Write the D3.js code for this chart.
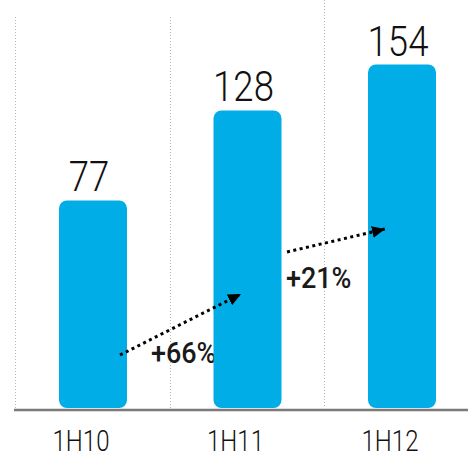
<!DOCTYPE html>
<html>
<head>
<meta charset="utf-8">
<script src="https://cdn.jsdelivr.net/npm/d3@7"></script>
<style>
  body { margin: 0; background: #fff; }
  svg { display: block; }
</style>
</head>
<body>
<svg id="chart" width="468" height="459"></svg>
<script>
// half-year figures
var periods = ["1H10", "1H11", "1H12"];
var values = [77, 128, 154];
var growthLabels = ["+66%", "+21%"];

var width = 468, height = 459;
var baseY = 408;
var svg = d3.select("#chart");

// columns between the dotted separators
var x = d3.scaleBand()
  .domain(periods)
  .range([15, 478.5])
  .padding(0);

// the bars are not drawn from zero in the original, axis is cut
var y = d3.scaleLinear()
  .domain([-40.5, 154])
  .range([baseY, 64.5]);

var barOff = 44, barW = 68;

svg.append("defs").append("marker")
  .attr("id", "head")
  .attr("markerUnits", "userSpaceOnUse")
  .attr("markerWidth", 14)
  .attr("markerHeight", 12)
  .attr("refX", 13)
  .attr("refY", 6)
  .attr("orient", "auto")
  .append("path")
  .attr("d", "M0,0 L13,6 L0,12 Z")
  .attr("fill", "#000");

// dotted separators
svg.selectAll("line.sep")
  .data(periods)
  .enter()
  .append("line")
  .attr("class", "sep")
  .attr("x1", function(d) { return Math.round(x(d)) + 0.5; })
  .attr("x2", function(d) { return Math.round(x(d)) + 0.5; })
  .attr("y1", function(d, i) { return i == 2 ? 0 : 17; })
  .attr("y2", baseY)
  .attr("stroke", "#b5b5b5")
  .attr("stroke-width", 1)
  .attr("stroke-dasharray", "1,2");

// growth labels sit under the bars (the % of +66% gets covered)
var growthPos = [[151, 363], [286, 288]];
svg.selectAll("text.growth")
  .data(growthLabels)
  .enter()
  .append("text")
  .attr("class", "growth")
  .attr("transform", function(d, i) {
    return "translate(" + growthPos[i][0] + "," + growthPos[i][1] + ") scale(0.93,1)";
  })
  .attr("font-family", "Roboto, sans-serif")
  .attr("font-weight", 500)
  .attr("font-size", 29)
  .attr("fill", "#1a1a1a")
  .text(function(d) { return d; });

// bars
svg.selectAll("rect.bar")
  .data(values)
  .enter()
  .append("rect")
  .attr("class", "bar")
  .attr("x", function(d, i) { return x(periods[i]) + barOff; })
  .attr("y", function(d) { return y(d); })
  .attr("width", barW)
  .attr("height", function(d) { return baseY - y(d); })
  .attr("rx", 8)
  .attr("ry", 8)
  .attr("fill", "#00ade6");

// baseline
svg.append("line")
  .attr("x1", 14)
  .attr("x2", width)
  .attr("y1", baseY + 2)
  .attr("y2", baseY + 2)
  .attr("stroke", "#7a7a7a")
  .attr("stroke-width", 2.5);

// value labels
svg.selectAll("text.val")
  .data(values)
  .enter()
  .append("text")
  .attr("class", "val")
  .attr("transform", function(d, i) {
    var cx = x(periods[i]) + barOff + barW / 2 - 4;
    return "translate(" + cx + "," + (y(d) - 9) + ") scale(0.87,1)";
  })
  .attr("text-anchor", "middle")
  .attr("font-family", "Roboto, sans-serif")
  .attr("font-weight", 300)
  .attr("font-size", 42)
  .attr("fill", "#111")
  .text(function(d) { return d; });

// period labels
svg.selectAll("text.cat")
  .data(periods)
  .enter()
  .append("text")
  .attr("class", "cat")
  .attr("transform", function(d) {
    return "translate(" + (x(d) + 66) + ",451) scale(0.8,1)";
  })
  .attr("text-anchor", "middle")
  .attr("font-family", "Roboto, sans-serif")
  .attr("font-weight", 300)
  .attr("font-size", 30)
  .attr("fill", "#111")
  .text(function(d) { return d; });

// growth arrows
var arrows = [[120, 355, 241, 294], [287, 252, 385, 229]];
svg.selectAll("line.arrow")
  .data(arrows)
  .enter()
  .append("line")
  .attr("class", "arrow")
  .attr("x1", function(d) { return d[0]; })
  .attr("y1", function(d) { return d[1]; })
  .attr("x2", function(d) { return d[2]; })
  .attr("y2", function(d) { return d[3]; })
  .attr("stroke", "#000")
  .attr("stroke-width", 3)
  .attr("stroke-dasharray", "3,3.5")
  .attr("marker-end", "url(#head)");
</script>
</body>
</html>
